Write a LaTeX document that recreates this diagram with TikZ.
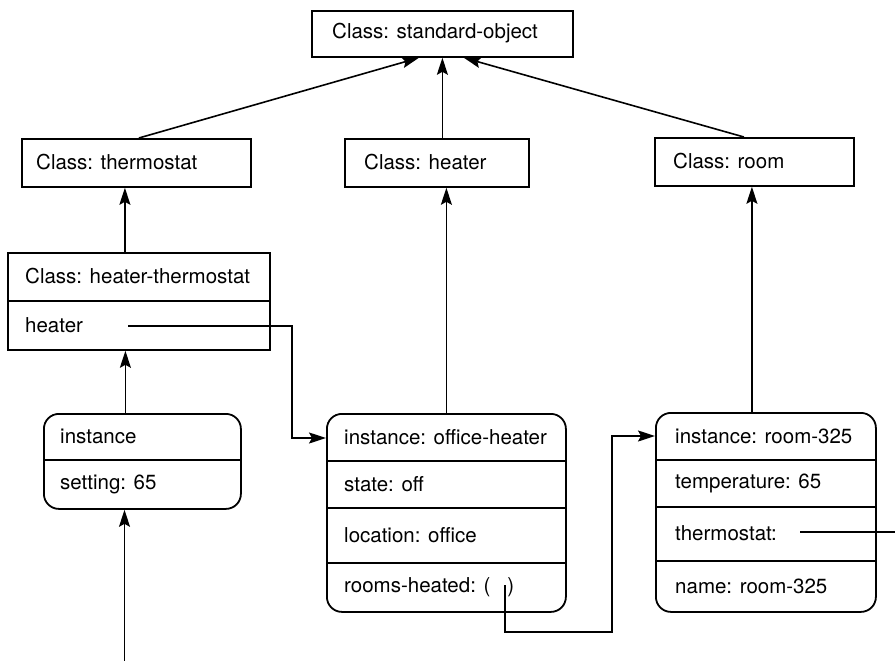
\documentclass[tikz,border=0pt]{standalone}
\usepackage{fontspec}
\setmainfont{TeX Gyre Heros}
\usetikzlibrary{arrows.meta}
\begin{document}
\begin{tikzpicture}[x=1pt,y=-1pt,
  cbox/.style={draw,line width=1.8pt,inner sep=0pt,anchor=north west},
  ibox/.style={cbox,rounded corners=15pt},
  lbl/.style={inner sep=0pt,anchor=west,font=\fontsize{20.5}{24}\selectfont},
  div/.style={line width=1.6pt},
  arr/.style={line width=1.6pt,-{Stealth[length=17pt,width=11pt,inset=3pt]}},
  link/.style={line width=1.6pt}]
\useasboundingbox (0,0) rectangle (895,661);
% class boxes
\node[cbox,minimum width=261pt,minimum height=46pt] (std) at (311,10) {};
\node[lbl] (stdT) at (332,33) {Class: standard-object};
\node[cbox,minimum width=229pt,minimum height=48pt] (thermo) at (21,138) {};
\node[lbl] (thermoT) at (36,162) {Class: thermostat};
\node[cbox,minimum width=184pt,minimum height=48pt] (heater) at (344,138) {};
\node[lbl] (heaterT) at (364,162) {Class: heater};
\node[cbox,minimum width=199pt,minimum height=48pt] (room) at (654,137) {};
\node[lbl] (roomT) at (673,161) {Class: room};
% heater-thermostat
\node[cbox,minimum width=262pt,minimum height=97pt] (ht) at (7,252) {};
\draw[div] (7,301) -- (269,301);
\node[lbl] (htT) at (25,276) {Class: heater-thermostat};
\node[lbl] (htS) at (25,325) {heater};
% instance (left)
\node[ibox,minimum width=197pt,minimum height=95pt] (inst) at (43,413) {};
\draw[div] (43,460) -- (240,460);
\node[lbl] (instA) at (60,436) {instance};
\node[lbl] (instB) at (60,484) {setting: 65};
% office-heater
\node[ibox,minimum width=239pt,minimum height=198pt] (oh) at (326,413) {};
\draw[div] (326,461) -- (565,461);
\draw[div] (326,508) -- (565,508);
\draw[div] (326,563) -- (565,563);
\node[lbl] (ohA) at (344,437) {instance: office-heater};
\node[lbl] (ohB) at (344,484) {state: off};
\node[lbl] (ohC) at (344,535) {location: office};
\node[lbl] (ohD) at (344,587) {rooms-heated: (\hspace{17pt})};
% room-325
\node[ibox,minimum width=220pt,minimum height=199pt] (rm) at (655,412) {};
\draw[div] (655,460) -- (875,460);
\draw[div] (655,507) -- (875,507);
\draw[div] (655,561) -- (875,561);
\node[lbl] (rmA) at (675,436) {instance: room-325};
\node[lbl] (rmB) at (675,483) {temperature: 65};
\node[lbl] (rmC) at (675,533) {thermostat:};
\node[lbl] (rmD) at (675,586) {name: room-325};
% inheritance arrows
\draw[arr] ([xshift=2.5pt]thermo.north) -- ([xshift=-23.5pt]std.south);
\draw[arr] (heater.north -| std.south) -- (std.south);
\draw[arr] ([xshift=-10.5pt]room.north) -- ([xshift=21.5pt]std.south);
\draw[arr] ([xshift=-14pt]ht.north) -- ([xshift=-14pt]ht.north |- thermo.south);
\draw[arr] ([xshift=-17pt]inst.north) -- ([xshift=-17pt]inst.north |- ht.south);
\draw[arr] (oh.north) -- (oh.north |- heater.south);
\draw[arr] ([xshift=-14pt]rm.north) -- ([xshift=-14pt]rm.north |- room.south);
\coordinate (src) at (124.5,661);
\draw[arr] (src) -- (src |- inst.south);
% slot links
\coordinate (hsA) at (128,326);
\coordinate (hsB) at (292,438);
\draw[arr] (hsA) -| (hsB) -- (hsB -| oh.west);
\coordinate (rhA) at (505,585);
\coordinate (rhB) at (505,632);
\coordinate (rhC) at (612,436);
\draw[arr] (rhA) -- (rhB) -| (rhC) -- (rhC -| rm.west);
\coordinate (tsA) at (800,532);
\coordinate (tsB) at (895,532);
\draw[link] (tsA) -- (tsB);
\end{tikzpicture}
\end{document}
